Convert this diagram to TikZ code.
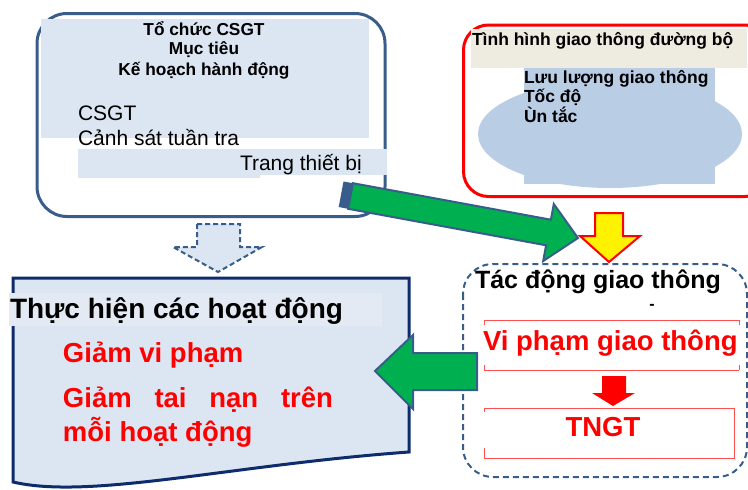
\documentclass[tikz,border=0pt]{standalone}
\usepackage{fontspec}
\setmainfont{Liberation Sans}
\definecolor{steel}{HTML}{385D8A}
\definecolor{navy}{HTML}{0E2B6B}
\definecolor{paleblue}{HTML}{DCE6F2}
\definecolor{paleblueb}{HTML}{E3EAF4}
\definecolor{midblue}{HTML}{B9CDE5}
\definecolor{beige}{HTML}{EEECE1}
\definecolor{arrgreen}{HTML}{00B050}
\definecolor{lightred}{HTML}{FF5050}
\begin{document}
\begin{tikzpicture}[x=1pt,y=-1pt,
  txt/.style={inner sep=0pt, outer sep=0pt},
  hdA/.style={txt, font=\bfseries\fontsize{17.3}{20}\selectfont},
  regB/.style={txt, font=\fontsize{21}{25}\selectfont},
  hdC/.style={txt, font=\bfseries\fontsize{17.5}{21}\selectfont},
  bigR/.style={txt, font=\bfseries\fontsize{27.5}{33}\selectfont, text=red},
  bigK/.style={txt, font=\bfseries\fontsize{28}{33}\selectfont},
  blockarrow/.style={line width=2pt, line join=miter},
  thinred/.style={draw=lightred, line width=1pt}
]
\useasboundingbox (0,0) rectangle (748,490);
\clip (0,0) rectangle (748,490);

% ---------- top-left box ----------
\draw[steel, line width=3pt, rounded corners=30pt, fill=white] (37,13.5) rectangle (385,216.5);
\fill[paleblue] (41,19) rectangle (369,138);
\fill[paleblue] (78,149) rectangle (260,178);
\fill[paleblue] (260,149) rectangle (387,175);
\node[hdA, anchor=base] (t1) at (204,35) {Tổ chức CSGT};
\node[hdA, anchor=base] (t2) at (204,54) {Mục tiêu};
\node[hdA, anchor=base] (t3) at (204,75) {Kế hoạch hành động};
\node[regB, anchor=base west] (t4) at (78,120) {CSGT};
\node[regB, anchor=base west] (t5) at (78,145) {Cảnh sát tuần tra};
\node[regB, anchor=base west] (t6) at (240,170) {Trang thiết bị};

% ---------- top-right box ----------
\draw[red, line width=3pt, rounded corners=25pt, fill=white] (463.5,25) rectangle (770,196.5);
\fill[beige] (471,29) rectangle (747,68);
\fill[midblue] (610,134) ellipse [x radius=132, y radius=54];
\fill[midblue] (524,68) rectangle (715,184);
\node[hdC, anchor=base west] (r0) at (472,45) {Tình hình giao thông đường bộ};
\node[hdC, anchor=base west] (r1) at (524,83) {Lưu lượng giao thông};
\node[hdC, anchor=base west] (r2) at (524,102) {Tốc độ};
\node[hdC, anchor=base west] (r3) at (524,122) {Ùn tắc};

% ---------- bottom-left document shape ----------
\draw[navy, line width=3pt, fill=paleblue, line join=miter]
  (13,278) -- (409,278) -- (409,452) .. controls (230,465) and (90,500) .. (13,482) -- cycle;
\fill[paleblueb] (9,293) rectangle (382,326);
\node[bigK, anchor=base west] (d0) at (10,318) {Thực hiện các hoạt động};
\node[bigR, anchor=base west] (d1) at (63,362) {Giảm vi phạm};
\node[bigR, anchor=base west] (d2) at (63,407) {\makebox[270pt][s]{Giảm\hfill tai\hfill nạn\hfill trên}};
\node[bigR, anchor=base west] (d3) at (63,441) {mỗi hoạt động};

% ---------- bottom-right dashed box ----------
\draw[steel, line width=2pt, dash pattern=on 6pt off 4pt, rounded corners=30pt] (463,264) rectangle (747,477);
\node[txt, font=\bfseries\fontsize{25}{30}\selectfont, anchor=base west] (b0) at (475,288) {Tác động giao thông};
\node[txt, font=\bfseries\fontsize{16}{18}\selectfont, anchor=center] (bdash) at (652,307) {-};
% red frame 1
\draw[thinred] (484,320) -- (739,320);
\draw[thinred] (484,370) -- (739,370);
\draw[thinred] (484,320) -- (484,325) (739,320) -- (739,325);
\draw[thinred] (484,365) -- (484,370) (739,365) -- (739,370);
\node[bigR, anchor=base west] (b1) at (483,350) {Vi phạm giao thông};
% red frame 2
\draw[thinred] (484,448) -- (484,458) -- (734,458) -- (734,408) -- (484,408) -- (484,412);
\node[bigR, anchor=base] (b2) at (603,436) {TNGT};
% red arrow
\fill[red] (602,376) -- (626,376) -- (626,393) -- (635,393) -- (613,406) -- (592,393) -- (602,393) -- cycle;

% ---------- block arrows ----------
% dashed down arrow
\draw[blockarrow, steel, fill=paleblue, dash pattern=on 5pt off 3pt]
  (197,224) -- (240,224) -- (240,247) -- (262,247) -- (218,272) -- (173,247) -- (197,247) -- cycle;
% yellow arrow
\draw[blockarrow, red, fill=yellow]
  (595,213) -- (623,213) -- (623,236) -- (640,236) -- (609,262) -- (580,236) -- (595,236) -- cycle;
% green diagonal arrow
\fill[steel] (343.5,181.5) -- (352.9,183.2) -- (348.1,208.8) -- (338.7,207) -- cycle;
\draw[blockarrow, steel, fill=arrgreen]
  (352.9,183.2) -- (550.9,219.7) -- (553.8,204.0) -- (578,238) -- (543.2,261.0) -- (546.1,245.3) -- (348.1,208.8) -- cycle;
% green left arrow
\draw[blockarrow, steel, fill=arrgreen]
  (477,353) -- (413,353) -- (413,335) -- (375,371) -- (413,409) -- (413,390) -- (477,390) -- cycle;
\end{tikzpicture}
\end{document}
